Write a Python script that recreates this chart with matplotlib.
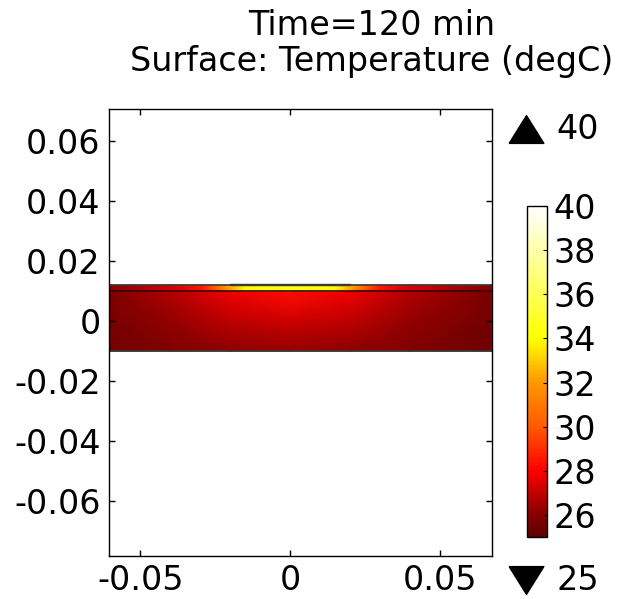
import numpy as np
import matplotlib
matplotlib.use('Agg')
import matplotlib.pyplot as plt
from matplotlib.colors import LinearSegmentedColormap, Normalize
from matplotlib.patches import Rectangle
from matplotlib.lines import Line2D

plt.rcParams['font.family'] = 'DejaVu Sans'
plt.rcParams['axes.unicode_minus'] = False

# Geometry (m)
x_min, x_max = -0.0604, 0.0674
y_min, y_max = -0.0783, 0.0707
body_y = [-0.01, 0.0, 0.01]
layer_y = [0.01, 0.012]
plate_x = [-0.02, 0.02]
plate_y = [0.012, 0.0125]

# Temperature readings (degC) on a coarse grid
body_x = [-0.0604, -0.04, -0.02, 0.0, 0.02, 0.04, 0.0674]
body_T = [
    [25.5, 25.8, 26.1, 26.2, 26.1, 25.8, 25.4],   # y = -0.01
    [25.6, 26.2, 26.9, 27.2, 26.9, 26.2, 25.5],   # y = 0
    [25.8, 26.7, 27.8, 28.3, 27.8, 26.7, 25.7],   # y = 0.01
]
layer_x = [-0.0604, -0.04, -0.03, -0.022, -0.015, 0.0, 0.015, 0.022, 0.03, 0.04, 0.0674]
layer_T = [
    [25.9, 27.2, 28.3, 31.0, 33.8, 34.4, 33.8, 31.0, 28.3, 27.2, 25.8],
    [26.0, 27.4, 28.6, 31.8, 34.3, 34.7, 34.3, 31.8, 28.6, 27.4, 25.9],
]

# Colour table
t_min, t_max = 25, 40
cmap_T = [25, 26, 28, 30, 32, 34, 36, 38, 40]
cmap_rgb = ['#5e0000', '#880000', '#ff0000', '#ff5a00', '#ff9800',
            '#ffff00', '#ffff55', '#ffffaa', '#ffffff']
cbar_ticks = [26, 28, 30, 32, 34, 36, 38, 40]

xticks = [-0.05, 0, 0.05]
xtick_labels = ['-0.05', '0', '0.05']
yticks = [-0.06, -0.04, -0.02, 0, 0.02, 0.04, 0.06]
ytick_labels = ['-0.06', '-0.04', '-0.02', '0', '0.02', '0.04', '0.06']

cmap = LinearSegmentedColormap.from_list(
    'thermal', [((t - t_min) / (t_max - t_min), c) for t, c in zip(cmap_T, cmap_rgb)])
norm = Normalize(t_min, t_max)

fs = 24

fig = plt.figure(figsize=(6.37, 5.99), dpi=100)
ax = fig.add_axes([0.1711, 0.0718, 0.6013, 0.7462])

bx, by = np.meshgrid(body_x, body_y)
ax.pcolormesh(bx, by, np.array(body_T), cmap=cmap, norm=norm, shading='gouraud')
lx, ly = np.meshgrid(layer_x, layer_y)
ax.pcolormesh(lx, ly, np.array(layer_T), cmap=cmap, norm=norm, shading='gouraud')

edge = '#3a3a3a'
ax.add_patch(Rectangle((x_min, body_y[0]), x_max - x_min, layer_y[1] - body_y[0],
                       fill=False, edgecolor=edge, lw=1.2))
ax.plot([x_min, x_max], [layer_y[0], layer_y[0]], color='#3a0000', lw=1.2)
ax.add_patch(Rectangle((plate_x[0], plate_y[0]), plate_x[1] - plate_x[0],
                       plate_y[1] - plate_y[0], facecolor='#ffff80',
                       edgecolor=edge, lw=1.0))

ax.set_xlim(x_min, x_max)
ax.set_ylim(y_min, y_max)
ax.set_xticks(xticks)
ax.set_xticklabels(xtick_labels)
ax.set_yticks(yticks)
ax.set_yticklabels(ytick_labels)
ax.tick_params(direction='in', length=4, width=1, labelsize=fs,
               top=True, right=True, pad=6)
for s in ax.spines.values():
    s.set_linewidth(1.0)

# Colour legend
cax = fig.add_axes([0.827, 0.1035, 0.0314, 0.5526])
sm = plt.cm.ScalarMappable(norm=norm, cmap=cmap)
cb = fig.colorbar(sm, cax=cax, ticks=cbar_ticks)
cb.ax.tick_params(direction='in', length=3, width=0.8, labelsize=fs, pad=5)
cb.outline.set_linewidth(1.0)

# max / min indicators
up = [(-1, -0.8), (1, -0.8), (0, 0.8), (-1, -0.8)]
down = [(-1, 0.8), (1, 0.8), (0, -0.8), (-1, 0.8)]
fig.add_artist(Line2D([0.826], [0.785], transform=fig.transFigure, marker=up,
                      markersize=25, color='black', linestyle='none'))
fig.add_artist(Line2D([0.826], [0.031], transform=fig.transFigure, marker=down,
                      markersize=25, color='black', linestyle='none'))
fig.text(0.873, 0.784, str(t_max), fontsize=fs, ha='left', va='center')
fig.text(0.873, 0.031, str(t_min), fontsize=fs, ha='left', va='center')

fig.text(0.583, 0.958, 'Time=120 min', fontsize=fs, ha='center', va='center')
fig.text(0.583, 0.897, 'Surface: Temperature (degC)', fontsize=fs,
         ha='center', va='center')

fig.savefig('out.png', dpi=100)
